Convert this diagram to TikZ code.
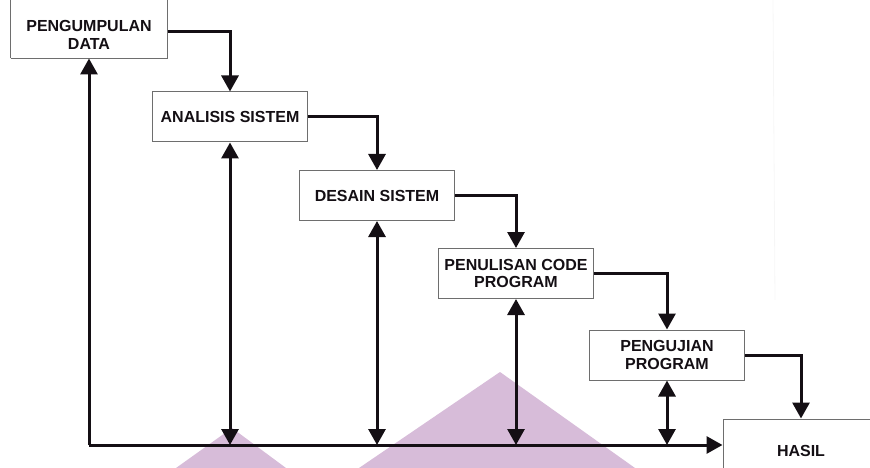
\documentclass[tikz,border=0pt]{standalone}
\usepackage{fontspec}
\setmainfont{Liberation Sans}
\usetikzlibrary{arrows.meta}
\definecolor{wm}{RGB}{215,188,217}
\definecolor{boxgray}{RGB}{110,110,110}
\definecolor{ink}{RGB}{20,15,20}
\tikzset{
  stepbox/.style={draw=boxgray, line width=1pt, fill=white, minimum width=155pt, minimum height=50pt,
    inner sep=0pt, align=center, text=ink, font=\fontsize{16}{17.5}\selectfont\bfseries},
  flow/.style={line width=3pt, draw=ink, -{Triangle[length=16pt,width=17pt]}},
  both/.style={line width=3pt, draw=ink, {Triangle[length=16pt,width=17pt]}-{Triangle[length=16pt,width=17pt]}},
}
\begin{document}
\begin{tikzpicture}[x=1pt,y=-1pt]
\useasboundingbox (0,0) rectangle (870,468);
\clip (0,0) rectangle (870,468);
% watermark shapes
\fill[wm] (176,468) -- (232,428) -- (286,468) -- cycle;
\fill[wm] (359,468) -- (500,372) -- (635,468) -- cycle;
\draw[gray!7, line width=0.8pt] (773,0) -- (775,300);
% boxes
\node[stepbox, draw=none, minimum width=156pt, minimum height=46pt] (b1) at (89,35) {PENGUMPULAN\\DATA};
\draw[boxgray, line width=1pt] (b1.south west) -- ([yshift=20pt]b1.north west);
\draw[boxgray, line width=1pt] (b1.south west) -- (b1.south east) -- ([yshift=20pt]b1.north east);
\node[stepbox] (b2) at (230,117) {ANALISIS SISTEM};
\node[stepbox] (b3) at (377,195.5) {DESAIN SISTEM};
\node[stepbox] (b4) at (516,273.5) {PENULISAN CODE\\PROGRAM};
\node[stepbox] (b5) at (667,355) {PENGUJIAN\\PROGRAM};
\node[stepbox, minimum width=156pt, minimum height=64pt] (b6) at (801,451) {HASIL};
\coordinate (base) at (89,445);
% flow arrows
\draw[flow] (b1.east |- 0,32) -| (b2.north);
\draw[flow] (b2.east) -| (b3.north);
\draw[flow] (b3.east) -| (b4.north);
\draw[flow] (b4.east) -| (b5.north);
\draw[flow] (b5.east) -| (b6.north);
% feedback
\draw[flow] (base) -- (b1.south);
\draw[flow] (base) -- (base -| b6.west);
\draw[both] (b2.south) -- (b2.south |- base);
\draw[both] (b3.south) -- (b3.south |- base);
\draw[both] (b4.south) -- (b4.south |- base);
\draw[both] (b5.south) -- (b5.south |- base);
\end{tikzpicture}
\end{document}
